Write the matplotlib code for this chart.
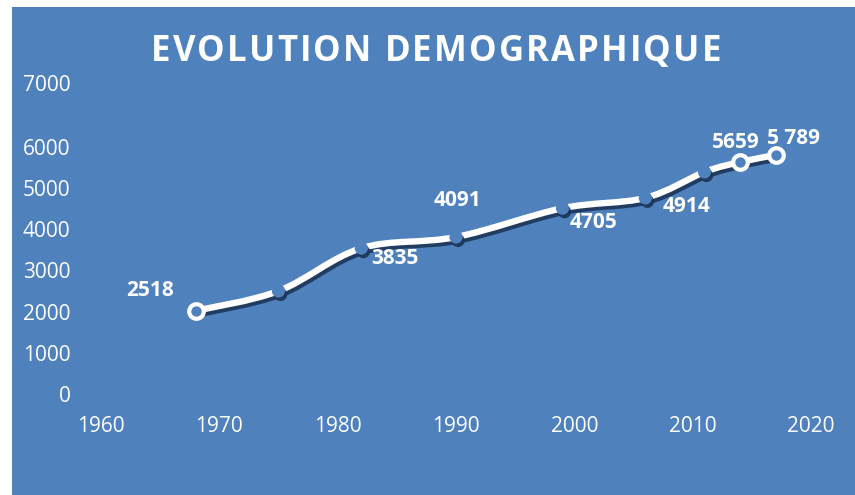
import matplotlib
matplotlib.use("Agg")
import matplotlib.pyplot as plt
import matplotlib.patheffects as pe
from matplotlib.path import Path
from matplotlib.patches import PathPatch, Rectangle
from matplotlib.font_manager import FontProperties, findfont
from matplotlib.ft2font import FT2Font
import numpy as np

# ---- data ----
years = [1968, 1975, 1982, 1990, 1999, 2006, 2011, 2014, 2017]
values = [2020, 2500, 3540, 3810, 4510, 4760, 5390, 5630, 5800]
hollow = [True, False, False, False, False, False, False, True, True]
label_idx = [0, 2, 3, 4, 5, 7, 8]
label_texts = ["2518", "3835", "4091", "4705", "4914", "5659", "5 789"]
xticks = [1960, 1970, 1980, 1990, 2000, 2010, 2020]
yticks = [0, 1000, 2000, 3000, 4000, 5000, 6000, 7550]
ytick_labels = ["0", "1000", "2000", "3000", "4000", "5000", "6000", "7000"]
title = "EVOLUTION DEMOGRAPHIQUE"

# ---- style ----
W, H = 855, 495
BLUE = "#4F81BD"
SHADOW = "#1C3557"
label_offsets = [(-46, 20), (34, -10), (1, 37), (31, -14), (41, -9), (-4, 20), (18, 17)]
FAM = ["Open Sans", "DejaVu Sans"]

fig = plt.figure(figsize=(W / 100, H / 100), dpi=100)
fig.patch.set_facecolor("white")
bg = Rectangle((12 / W, 0), 1 - 12 / W, 1 - 7 / H, transform=fig.transFigure,
               facecolor=BLUE, edgecolor="none", zorder=-10)
fig.add_artist(bg)

ax = fig.add_axes([101 / W, (H - 394) / H, (811 - 101) / W, (394 - 83) / H])
ax.set_zorder(1)
ax.set_facecolor("none")
ax.set_xlim(1960, 2020)
ax.set_ylim(0, 7550)
for s in ax.spines.values():
    s.set_visible(False)
tickfont = dict(family=FAM, size=15)
ax.set_xticks(xticks)
ax.set_xticklabels([str(t) for t in xticks], color="white", **tickfont)
ax.set_yticks(yticks)
ax.set_yticklabels(ytick_labels, color="white", **tickfont)
ax.tick_params(axis="both", length=0)
ax.tick_params(axis="x", pad=16)
ax.tick_params(axis="y", pad=22)

# smoothed line (Catmull-Rom Bezier as in spreadsheet smoothing)
P = np.column_stack([years, values]).astype(float)
n = len(P)
verts = [tuple(P[0])]
codes = [Path.MOVETO]
for i in range(n - 1):
    p0 = P[i - 1] if i > 0 else P[i]
    p1 = P[i]
    p2 = P[i + 1]
    p3 = P[i + 2] if i + 2 < n else P[i + 1]
    c1 = p1 + (p2 - p0) / 6.0
    c2 = p2 - (p3 - p1) / 6.0
    verts += [tuple(c1), tuple(c2), tuple(p2)]
    codes += [Path.CURVE4] * 3
curve = PathPatch(Path(verts, codes), facecolor="none", edgecolor="white",
                  lw=4.6, capstyle="round", joinstyle="round", zorder=3,
                  path_effects=[pe.SimpleLineShadow(offset=(1.5, -2.5),
                                                    shadow_color=SHADOW, alpha=0.9),
                                pe.Normal()])
ax.add_patch(curve)

# markers
for x, y, h in zip(years, values, hollow):
    if h:
        ax.plot([x], [y], marker="o", ms=10.5, mfc=BLUE, mec="white", mew=3.0,
                ls="none", zorder=5)
    else:
        ax.plot([x], [y], marker="o", ms=9.5, mfc=BLUE, mec="none", ls="none",
                zorder=4,
                path_effects=[pe.SimplePatchShadow(offset=(1.5, -2.5),
                                                   shadow_rgbFace=SHADOW, alpha=0.9),
                              pe.Normal()])

# data labels
for i, txt, off in zip(label_idx, label_texts, label_offsets):
    ax.annotate(txt, (years[i], values[i]), xytext=off, textcoords="offset pixels",
                ha="center", va="center", color="white", fontweight="bold",
                family=FAM, fontsize=15, zorder=6)

# title with letter spacing
tfp = FontProperties(family="Open Sans", weight="bold", size=25)
font = FT2Font(findfont(tfp))
font.set_size(25, 100)
adv = []
for ch in title:
    g = font.load_char(ord(ch))
    adv.append(g.linearHoriAdvance / 65536.0)
target = 570.0
spacing = (target - sum(adv)) / (len(title) - 1)
total = sum(adv) + spacing * (len(title) - 1)
x0 = 436 - total / 2
xc = x0
for ch, a in zip(title, adv):
    if ch != " ":
        fig.text(xc / W, 1 - 52 / H, ch, fontproperties=tfp, color="white",
                 ha="left", va="center")
    xc += a + spacing

fig.savefig("out.png", dpi=100, facecolor=fig.get_facecolor())
